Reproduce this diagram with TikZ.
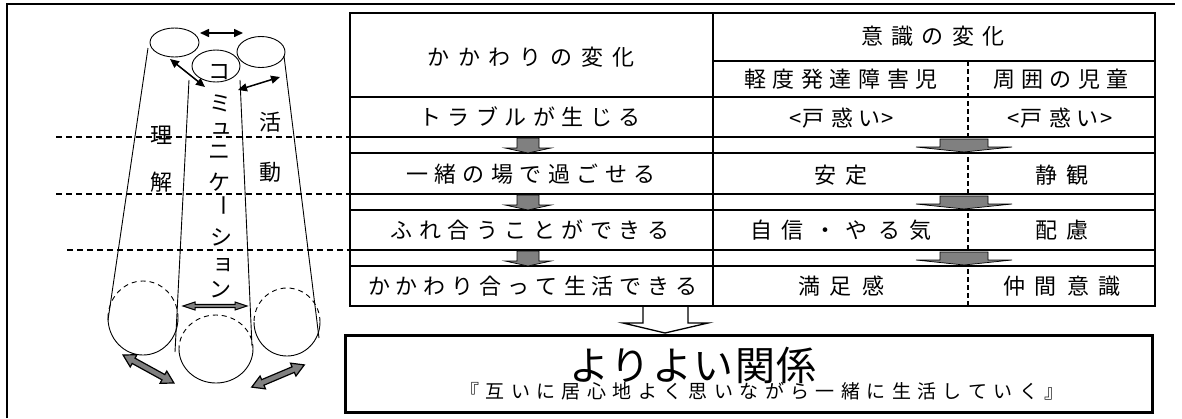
\documentclass[tikz,border=0pt]{standalone}
\usepackage{fontspec}
\setmainfont{Noto Sans CJK JP}
\usetikzlibrary{arrows.meta}

% spaced-out lettering: \spreadtext{gap}{characters}
\newlength\lsgap
\def\lsloop#1{\ifx\relax#1\else#1\kern\lsgap\expandafter\lsloop\fi}
\newcommand\spreadtext[2]{\setlength\lsgap{#1}\lsloop#2\relax\unkern}
\newcommand\cellt[1]{\spreadtext{6.5bp}{#1}}
\newcommand\cellw[1]{\spreadtext{10bp}{#1}}
\newcommand\puzzled{<\kern1bp 戸\kern6bp 惑\kern6bp い\kern1bp >}

\begin{document}
\begin{tikzpicture}[x=1bp,y=-1bp,line join=miter,
  tbl/.style={line width=1.8bp},
  txt/.style={inner sep=0pt,font=\fontsize{22bp}{26bp}\selectfont},
  thinline/.style={line width=0.9bp},
  hidden/.style={line width=0.9bp,dash pattern=on 5bp off 4bp},
  guide/.style={line width=1.3bp,dash pattern=on 6bp off 4bp},
  flow/.style={fill=black!50,draw=black,line width=0.7bp},
  grayarrow/.style={fill=black!50,draw=black,line width=1.2bp},
  blackarrow/.style={line width=1.5bp,{Triangle[length=9bp,width=8bp]}-{Triangle[length=9bp,width=8bp]}}]
\useasboundingbox (0,0) rectangle (1182,418);

% outer frame
\draw[line width=2bp] (7,418) -- (7,4) -- (1175,4);

% level guides on the left
\coordinate (g1a) at (56,137);  \coordinate (g1b) at (350,137);
\coordinate (g2a) at (56,194);  \coordinate (g2b) at (350,194);
\coordinate (g3a) at (67,250);  \coordinate (g3b) at (350,250);
\draw[guide] (g1a) -- (g1b);
\draw[guide] (g2a) -- (g2b);
\draw[guide] (g3a) -- (g3b);

% three pillars: top rims
\draw[thinline] (174.5,42.5) ellipse [x radius=24.5,y radius=14.5];
\draw[thinline] (261,52) ellipse [x radius=24,y radius=15.5];
\draw[thinline,fill=white] (216,66) ellipse [x radius=24,y radius=16];
% pillar sides
\coordinate (sA1) at (148,48);  \coordinate (sA2) at (108,320);
\coordinate (sB1) at (189,80);  \coordinate (sB2) at (175,352);
\coordinate (sC1) at (240,80);  \coordinate (sC2) at (252,346);
\coordinate (sD1) at (284,56);  \coordinate (sD2) at (319,338);
\draw[thinline] (sA1) -- (sA2);
\draw[thinline] (sB1) -- (sB2);
\draw[thinline] (sC1) -- (sC2);
\draw[thinline] (sD1) -- (sD2);
% pillar bases: visible front half, hidden back half
\draw[thinline] (178,318) arc[start angle=0,end angle=180,x radius=35,y radius=37];
\draw[hidden]   (178,318) arc[start angle=0,end angle=-180,x radius=35,y radius=37];
\draw[thinline] (253,349) arc[start angle=0,end angle=180,x radius=37,y radius=34];
\draw[hidden]   (253,349) arc[start angle=0,end angle=-180,x radius=37,y radius=34];
\draw[thinline] (320,322) arc[start angle=0,end angle=180,x radius=33,y radius=34];
\draw[hidden]   (320,322) arc[start angle=0,end angle=-180,x radius=33,y radius=34];

% pillar labels
\node[txt] (ri)  at (161,135) {理};
\node[txt] (kai) at (161,182) {解};
\node[txt] (ka)  at (270,122) {活};
\node[txt] (do)  at (270,172) {動};
\node[txt] (c1) at (219,72)  {コ};
\node[txt] (c2) at (220,103) {ミ};
\node[txt] (c3) at (221,129) {ュ};
\node[txt] (c4) at (219,152) {ニ};
\node[txt] (c5) at (219,182) {ケ};
\node[txt,rotate=-90] (c6) at (220,205) {ー};
\node[txt] (c7) at (221,237) {シ};
\node[txt] (c8) at (223,265) {ョ};
\node[txt] (c9) at (220,290) {ン};

% links between the pillars
\coordinate (t1a) at (200,33);  \coordinate (t1b) at (243,33);
\coordinate (t2a) at (170,59);  \coordinate (t2b) at (205,87);
\coordinate (t3a) at (238,90);  \coordinate (t3b) at (280,77);
\draw[blackarrow] (t1a) -- (t1b);
\draw[blackarrow] (t2a) -- (t2b);
\draw[blackarrow] (t3a) -- (t3b);

% gray double arrows near the bases
\begin{scope}[shift={(215,306)}]
  \draw[grayarrow,line width=1bp] (-32,0) -- (-20,4) -- (-20,1.6) -- (20,1.6) -- (20,4) -- (32,0)
    -- (20,-4) -- (20,-1.6) -- (-20,-1.6) -- (-20,-4) -- cycle;
\end{scope}
\begin{scope}[shift={(148.5,369)},rotate=-28.8]
  \draw[grayarrow] (-29,0) -- (-17,7) -- (-17,3) -- (17,3) -- (17,7) -- (29,0)
    -- (17,-7) -- (17,-3) -- (-17,-3) -- (-17,-7) -- cycle;
\end{scope}
\begin{scope}[shift={(278,376)},rotate=22.9]
  \draw[grayarrow] (-28.5,0) -- (-16.5,7) -- (-16.5,3) -- (16.5,3) -- (16.5,7) -- (28.5,0)
    -- (16.5,-7) -- (16.5,-3) -- (-16.5,-3) -- (-16.5,-7) -- cycle;
\end{scope}

% table grid
\draw[line width=1.5bp,dash pattern=on 5bp off 3bp] (968,61) -- (968,306);
\draw[tbl] (713,61) -- (1155,61);
\foreach \yy in {97,137,153,194,210,250,266}
  \draw[tbl] (350,\yy) -- (1155,\yy);
\draw[tbl] (713,13) -- (713,306);
\draw[tbl] (350,13) rectangle (1155,306);

% step arrows between rows
\foreach \yy in {137,194,250}{
  \draw[flow] (517,\yy+1) -- (517,\yy+11) -- (505,\yy+11) -- (528,\yy+16)
    -- (551,\yy+11) -- (539,\yy+11) -- (539,\yy+1) -- cycle;
  \draw[flow] (940,\yy+2) -- (940,\yy+10) -- (916,\yy+10) -- (964,\yy+15)
    -- (1012,\yy+10) -- (988,\yy+10) -- (988,\yy+2) -- cycle;
}

% table texts
\node[txt] (h1) at (531,57)  {\spreadtext{9bp}{かかわりの変化}};
\node[txt] (h2) at (933,36)  {\spreadtext{8.5bp}{意識の変化}};
\node[txt] (h3) at (841,79)  {\cellt{軽度発達障害児}};
\node[txt] (h4) at (1061,79) {\cellt{周囲の児童}};
\node[txt] (r1) at (530,117) {\cellt{トラブルが生じる}};
\node[txt] (r1a) at (842,118) {\puzzled};
\node[txt] (r1b) at (1060,118) {\puzzled};
\node[txt] (r2) at (531,174) {\cellt{一緒の場で過ごせる}};
\node[txt] (r2a) at (841,175) {\cellw{安定}};
\node[txt] (r2b) at (1062,175) {\cellw{静観}};
\node[txt] (r3) at (530,230) {\cellt{ふれ合うことができる}};
\node[txt] (r3a) at (841,230) {\cellw{自信・やる気}};
\node[txt] (r3b) at (1062,230) {\cellw{配慮}};
\node[txt] (r4) at (533,286) {\spreadtext{6bp}{かかわり合って生活できる}};
\node[txt] (r4a) at (841,286) {\cellw{満足感}};
\node[txt] (r4b) at (1062,286) {\cellw{仲間意識}};

% outcome arrow and box
\fill[white] (643,307) -- (643,323) -- (623,323) -- (665,333) -- (708,323) -- (688,323) -- (688,307) -- cycle;
\draw[line width=1.3bp] (643,307) -- (643,323) -- (623,323) -- (665,333) -- (708,323) -- (688,323) -- (688,307);
\draw[line width=3bp] (345,335) rectangle (1152,412);
\node[inner sep=0pt,font=\fontsize{40bp}{44bp}\selectfont] (goal) at (693,365) {\spreadtext{1.5bp}{よりよい関係}};
\node[inner sep=0pt,font=\fontsize{19bp}{22bp}\selectfont] (motto) at (762,391)
  {\spreadtext{6.4bp}{『互いに居心地よく思いながら一緒に生活していく』}};
\end{tikzpicture}
\end{document}
